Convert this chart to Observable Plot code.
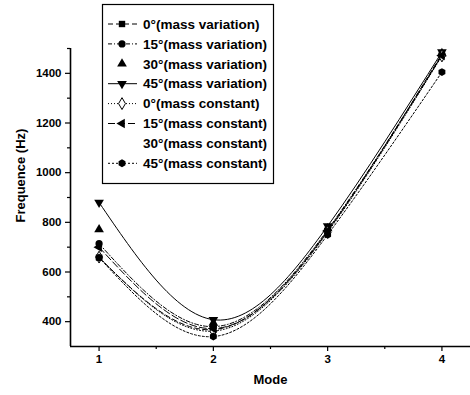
<!DOCTYPE html>
<html><head><meta charset="utf-8">
<script src="https://cdn.jsdelivr.net/npm/d3@7"></script>
<script src="https://cdn.jsdelivr.net/npm/@observablehq/plot@0.6"></script>
<style>
body{margin:0;background:#fff;}
#wrap{position:relative;width:470px;height:395px;font-family:"Liberation Sans",Arial,sans-serif;color:#000;}
#legend{position:absolute;left:0;top:0;}
</style></head><body><div id="wrap"></div>
<script>
// ---- data ----
const modes = [1, 2, 3, 4];
const seriesNames = [
  "0°(mass variation)", "15°(mass variation)", "30°(mass variation)", "45°(mass variation)",
  "0°(mass constant)", "15°(mass constant)", "30°(mass constant)", "45°(mass constant)"
];
const deg0Variation  = [658, 368, 765, 1478];
const deg15Variation = [714, 380, 770, 1475];
const deg30Variation = [771, 395, 775, 1480];
const deg45Variation = [880, 408, 785, 1486];
const deg0Constant   = [660, 362, 760, 1470];
const deg15Constant  = [700, 372, 765, 1472];
const deg30Constant  = [760, 385, 770, 1476];
const deg45Constant  = [658, 340, 750, 1405];
const yTicks = [400, 600, 800, 1000, 1200, 1400];
const yMinorTicks = [500, 700, 900, 1100, 1300, 1500];
const xTicks = [1, 2, 3, 4];
const xMinorTicks = [1.5, 2.5, 3.5];
const xDomain = [0.75, 4.25];
const yDomain = [300, 1500];

// ---- custom symbols ----
const s3 = Math.sqrt(3);
const triDown = {draw(c, size){ const y = -Math.sqrt(size/(s3*3)); c.moveTo(0,-2*y); c.lineTo(-s3*y, y); c.lineTo(s3*y, y); c.closePath(); }};
const triLeft = {draw(c, size){ const y = -Math.sqrt(size/(s3*3)); c.moveTo(2*y,0); c.lineTo(-y, s3*y); c.lineTo(-y, -s3*y); c.closePath(); }};
const hexagon = {draw(c, size){ const r = Math.sqrt(2*size/(3*s3)); for(let i=0;i<6;i++){const a=Math.PI/6+i*Math.PI/3; const px=r*Math.cos(a), py=r*Math.sin(a); if(i===0)c.moveTo(px,py); else c.lineTo(px,py);} c.closePath(); }};

const allValues = [deg0Variation, deg15Variation, deg30Variation, deg45Variation,
                   deg0Constant, deg15Constant, deg30Constant, deg45Constant];
const styles = [
  {dash: "5,3", symbol: d3.symbolSquare, fill: "black", line: true, marker: true},
  {dash: "4,2,1,2", symbol: d3.symbolCircle, fill: "black", line: true, marker: true},
  {dash: null, symbol: d3.symbolTriangle, fill: "black", line: false, marker: true},
  {dash: null, symbol: triDown, fill: "black", line: true, marker: true},
  {dash: "1,2", symbol: d3.symbolDiamond, fill: "white", line: true, marker: true},
  {dash: "7,3", symbol: triLeft, fill: "black", line: true, marker: true},
  {dash: null, symbol: null, fill: "none", line: false, marker: false},
  {dash: "2,2", symbol: hexagon, fill: "black", line: true, marker: true}
];
const series = seriesNames.map((name, i) => ({
  name, ...styles[i],
  data: modes.map((m, j) => ({mode: m, freq: allValues[i][j]}))
}));

const marks = [];
for (const s of series) {
  if (s.line) marks.push(Plot.line(s.data, {x: "mode", y: "freq", curve: "natural", stroke: "black",
    strokeWidth: 1, strokeDasharray: s.dash ?? undefined}));
}
for (const s of series) {
  if (s.marker) marks.push(Plot.dot(s.data, {x: "mode", y: "freq", symbol: s.symbol, r: 3.6,
    fill: s.fill, stroke: s.fill === "white" ? "black" : "none", strokeWidth: 1}));
}

const chart = Plot.plot({
  width: 470, height: 395,
  marginLeft: 70, marginRight: 0, marginTop: 48, marginBottom: 49,
  x: {domain: xDomain},
  y: {domain: yDomain},
  style: {fontFamily: '"Liberation Sans", Arial, sans-serif', fontSize: "11.5px", fontWeight: "bold", color: "black", background: "white", overflow: "visible"},
  marks: [
    Plot.axisY({ticks: yTicks, tickSize: 5, tickPadding: 4, tickFormat: d3.format("d"), label: null, strokeWidth: 1.2}),
    Plot.axisY({ticks: yMinorTicks, tickSize: 3, tickFormat: () => "", label: null, strokeWidth: 1.2}),
    Plot.axisX({ticks: xTicks, tickSize: 5, tickPadding: 3, tickFormat: d3.format("d"), label: null, strokeWidth: 1.2}),
    Plot.axisX({ticks: xMinorTicks, tickSize: 3, tickFormat: () => "", label: null, strokeWidth: 1.2}),
    Plot.ruleX([xDomain[0]], {stroke: "black", strokeWidth: 1.6}),
    Plot.ruleY([yDomain[0]], {stroke: "black", strokeWidth: 1.6}),
    ...marks,
    Plot.text(["Mode"], {frameAnchor: "bottom", dy: 37, fontSize: 13, fontWeight: "bold", fill: "black"}),
    Plot.text(["Frequence (Hz)"], {frameAnchor: "left", dx: -50, dy: 25, rotate: -90, fontSize: 13, fontWeight: "bold", fill: "black"})
  ]
});
document.getElementById("wrap").appendChild(chart);

// ---- legend overlay ----
const leg = d3.select("#wrap").append("svg").attr("id", "legend")
  .attr("width", 470).attr("height", 200);
leg.append("rect").attr("x", 102.5).attr("y", 4.5).attr("width", 171).attr("height", 179)
  .attr("fill", "white").attr("stroke", "black").attr("stroke-width", 1.2);
series.forEach((s, i) => {
  const cy = 24 + i * 19.9;
  const g = leg.append("g").attr("transform", `translate(0,${cy})`);
  if (s.line) {
    g.append("line").attr("x1", 108).attr("x2", 137).attr("y1", 0).attr("y2", 0)
      .attr("stroke", "black").attr("stroke-width", 1)
      .attr("stroke-dasharray", s.dash ?? null);
  }
  if (s.marker) {
    g.append("path").attr("transform", "translate(122,0)")
      .attr("d", d3.symbol(s.symbol, Math.PI * 3.6 * 3.6)())
      .attr("fill", s.fill).attr("stroke", s.fill === "white" ? "black" : "none");
  }
  g.append("text").attr("x", 143).attr("y", 0).attr("dy", "0.35em")
    .attr("font-size", 13.5).attr("font-weight", "bold")
    .attr("font-family", '"Liberation Sans", Arial, sans-serif')
    .attr("fill", "black").text(s.name);
});
</script></body></html>
